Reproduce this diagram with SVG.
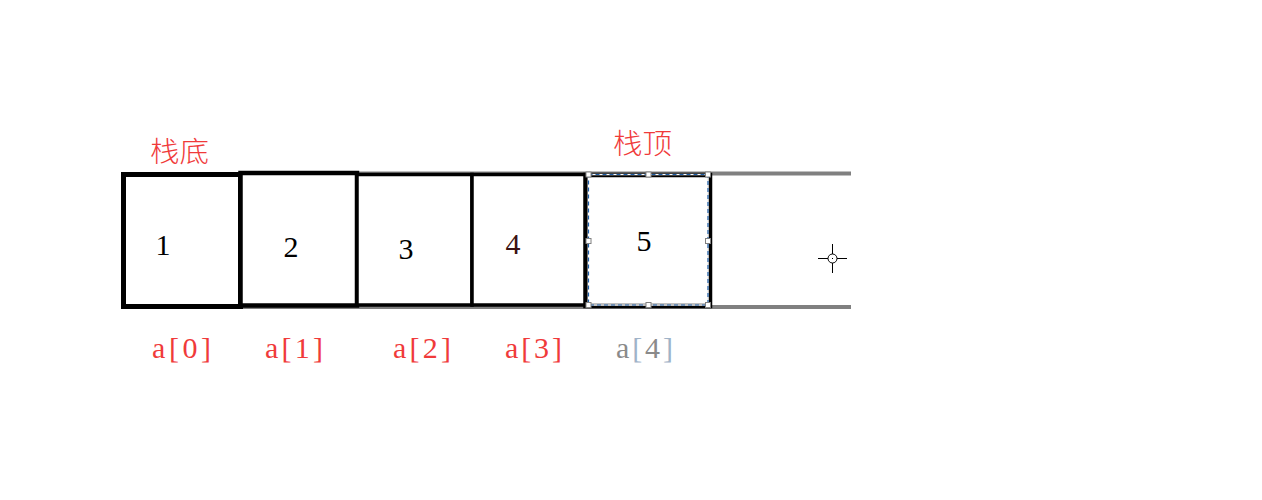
<svg xmlns="http://www.w3.org/2000/svg" width="1262" height="500" viewBox="0 0 1262 500">
<style>
.box{fill:#fff;stroke:#000}
.num{font-family:"Liberation Serif","DejaVu Serif",serif;font-size:30px;fill:#000;text-anchor:middle}
.idx{font-family:"Liberation Serif","DejaVu Serif",serif;font-size:30px;fill:#f03a3a}
.cn{font-family:"Noto Sans CJK SC",sans-serif;font-size:28px;font-weight:300;fill:#f03a3a}
.rail{stroke:#808080;stroke-width:4;fill:none}
.hdl{fill:#fff;stroke:#808080;stroke-width:1}
</style>
<rect width="1262" height="500" fill="#fff"/>
<g id="rails">
<line class="rail" x1="355" y1="173.5" x2="851" y2="173.5"/>
<line class="rail" x1="243" y1="307" x2="851" y2="307"/>
</g>
<g id="node-a0">
<rect class="box" x="123.5" y="174.5" width="117" height="132" stroke-width="5"/>
<text class="num" x="163" y="255">1</text>
<text class="idx" x="152" y="358" textLength="59" lengthAdjust="spacing">a[0]</text>
</g>
<g id="node-a1">
<rect class="box" x="240.5" y="173" width="116.5" height="132.5" stroke-width="4.5"/>
<text class="num" x="291" y="257">2</text>
<text class="idx" x="265" y="358" textLength="58" lengthAdjust="spacing">a[1]</text>
</g>
<g id="node-a2">
<rect class="box" x="357" y="174.5" width="115" height="130.5" stroke-width="3.5"/>
<text class="num" x="406" y="259">3</text>
<text class="idx" x="393" y="358" textLength="58" lengthAdjust="spacing">a[2]</text>
</g>
<g id="node-a3">
<rect class="box" x="472" y="174.5" width="115.5" height="130.5" stroke-width="3.5"/>
<text class="num" x="513" y="254" style="fill:#3a1212">4</text>
<text class="idx" x="505" y="358" textLength="57" lengthAdjust="spacing">a[3]</text>
</g>
<g id="node-a4">
<rect class="box" x="585.5" y="175" width="124.5" height="131" stroke-width="4.5"/>
<rect x="588.5" y="174.5" width="119.5" height="130.5" fill="none" stroke="#fff" stroke-width="1.5"/>
<rect x="588.5" y="174.5" width="119.5" height="130.5" fill="none" stroke="#1f5fa8" stroke-width="1.2" stroke-dasharray="4 3"/>
<rect class="hdl" x="586" y="172" width="5" height="5"/>
<rect class="hdl" x="646" y="172" width="5" height="5"/>
<rect class="hdl" x="705.5" y="172" width="5" height="5"/>
<rect class="hdl" x="586" y="238.5" width="5" height="5"/>
<rect class="hdl" x="705.5" y="238.5" width="5" height="5"/>
<rect class="hdl" x="586" y="302.5" width="5" height="5"/>
<rect class="hdl" x="646" y="302.5" width="5" height="5"/>
<rect class="hdl" x="705.5" y="302.5" width="5" height="5"/>
<text class="num" x="644" y="251">5</text>
<text class="idx" x="616" y="358" textLength="57" lengthAdjust="spacing" style="fill:#8a8a8a">a<tspan style="fill:#9fb3c8">[</tspan>4<tspan style="fill:#9fb3c8">]</tspan></text>
</g>
<g id="label-bottom">
<text class="cn" x="150" y="162" textLength="59" lengthAdjust="spacingAndGlyphs">栈底</text>
</g>
<g id="label-top">
<text class="cn" x="613" y="154" textLength="59" lengthAdjust="spacingAndGlyphs">栈顶</text>
</g>
<g id="cursor" stroke="#000" stroke-width="1" fill="none">
<circle cx="832.5" cy="258.5" r="4.5"/>
<line x1="818" y1="258.5" x2="828" y2="258.5"/>
<line x1="837" y1="258.5" x2="847" y2="258.5"/>
<line x1="832.5" y1="244" x2="832.5" y2="254"/>
<line x1="832.5" y1="263" x2="832.5" y2="273"/>
<rect x="832" y="258" width="1" height="1" fill="#000" stroke="none"/>
</g>
</svg>
